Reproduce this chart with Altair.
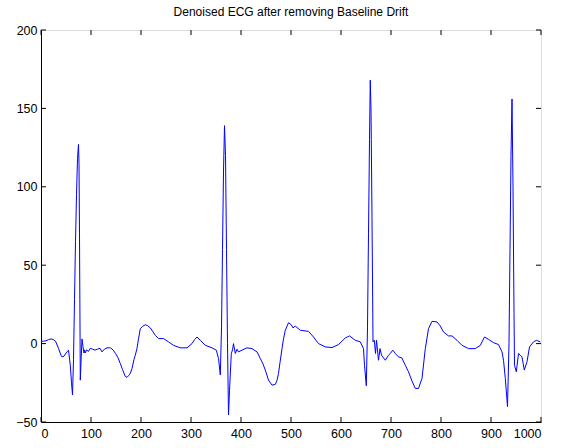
import altair as alt
import pandas as pd

sample_x = [0,5,10,15,20,25,29,35,40,42,46,50,52,55,58.6,61,63,65,67,69,71,73,75,76,77,78.6,80,82,84,86,87,88.6,91,95,98.6,103,108,113,118,122,127,132,139,144,149,154,158.6,163,168.6,172,175,178.6,182,186,188.6,192,195,198.6,203,208.6,213,218.6,223,228.6,235,245,255,265,278.6,292,302,307,312,318.6,328.6,342,350.6,355,358.6,361,363,365,367,369,371,373,375,377,380.6,383,385,388.6,392,395,402,412,422,432,438.6,444,448.6,455,462,468.6,472,475,478,482,485,488.6,495,500.6,504,508.6,518.6,535,545,555,568.6,582,595,608.6,617,628.6,638.6,645,647,650.6,653,655,657,658.5,660,662,664,666.6,669,671,675,678,681,688.6,695,698.6,703.6,708.6,715,721.6,728.6,735,742,748.6,755,762,768.6,775,782,792,798.6,805,815,822,832,842,855,868.6,878.6,887,895,905,915,922,925,928.6,933,936,938,940,942,944,946,947,950.6,955,958.6,962,966.6,972,977,985,990.6,998.6]

ecg_y = [1.5,1.5,1.8,2.5,3,2.5,1.5,-3,-7.5,-8.5,-8,-6,-5.3,-4.2,-13.8,-25,-32.8,-10,28,65,95,118,127,115,70,-23.3,-12,3,-2,-6,-4,-6,-4,-5,-3,-3.5,-4.2,-3.5,-3,-5.3,-3.5,-2.7,-2.7,-4,-6.3,-9,-12.7,-16.5,-21,-21.5,-20.5,-19,-15.9,-10,-7.4,-3,3,9.5,11,12,11.5,10,8,5.3,3.2,3.2,1.1,-1.1,-2.7,-2.7,0,2.5,4.2,2.1,-1.1,-2.7,-4.2,-9.5,-20,10,60,110,139,120,60,0,-45.5,-30,-6.3,-4,0,-6.3,-3.6,-5.3,-4.2,-2.7,-3.2,-5.3,-9.5,-13,-16.9,-23.3,-26.5,-26,-23.5,-19,-12,-3.2,3,8.5,13.3,12,10,11.2,8.5,7.8,4.2,0,-2.1,-2.5,-0.6,3.6,4.9,2.1,1.1,-3.2,-13.8,-26.9,10,70,130,168,150,80,1.1,2.1,-6.3,2.1,-10.6,-3.2,-7.4,-10.6,-7.4,-6.3,-4.2,-6.3,-8.5,-9.1,-13.8,-18,-23.9,-28.6,-28.6,-22.2,-3.2,9.5,14.2,13.8,11.2,7.4,4.9,4.9,2.1,-1.1,-3.2,-3.2,-1.1,4.2,2.7,0.6,-0.6,-5.3,-10.6,-22.2,-40.2,0,60,120,156,100,20,-13.8,-18,-6.3,-7.4,-8.5,-16.9,-11.6,-2.1,1.1,2.1,1.1]

x_ticks = [0,100,200,300,400,500,600,700,800,900,1000]
y_ticks = [-50,0,50,100,150,200]

W, H = 500, 392
FONT = "Liberation Sans"

df = pd.DataFrame({"x": sample_x, "y": ecg_y})
xt = pd.DataFrame({"x": x_ticks})
yt = pd.DataFrame({"y": y_ticks})

xscale = alt.Scale(domain=[0, 1000], nice=False, zero=False)
yscale = alt.Scale(domain=[-50, 200], nice=False, zero=False)

x_axis = alt.Axis(values=x_ticks, tickSize=0, labelPadding=5, grid=False,
                  domainColor="black", labelColor="black",
                  labelFont=FONT, labelFontSize=12.5, format="d")
y_axis = alt.Axis(values=y_ticks, tickSize=0, labelPadding=4, grid=False,
                  domainColor="black", labelColor="black",
                  labelFont=FONT, labelFontSize=12.5, format="d")

line = alt.Chart(df).mark_line(color="#0000FF", strokeWidth=1, clip=True).encode(
    x=alt.X("x:Q", scale=xscale, title=None, axis=x_axis),
    y=alt.Y("y:Q", scale=yscale, title=None, axis=y_axis),
)

tk = dict(color="black", strokeWidth=1)
xb = alt.Chart(xt).mark_rule(**tk).encode(
    x=alt.X("x:Q", scale=xscale, title=None, axis=x_axis), y=alt.value(H), y2=alt.value(H - 5))
xtop = alt.Chart(xt).mark_rule(**tk).encode(
    x=alt.X("x:Q", scale=xscale, title=None, axis=x_axis), y=alt.value(0), y2=alt.value(5))
yl = alt.Chart(yt).mark_rule(**tk).encode(
    y=alt.Y("y:Q", scale=yscale, title=None, axis=y_axis), x=alt.value(0), x2=alt.value(5))
yr = alt.Chart(yt).mark_rule(**tk).encode(
    y=alt.Y("y:Q", scale=yscale, title=None, axis=y_axis), x=alt.value(W), x2=alt.value(W - 5))

chart = alt.layer(line, xb, xtop, yl, yr).properties(
    width=W, height=H,
    title=alt.TitleParams("Denoised ECG after removing Baseline Drift", font=FONT,
                          fontSize=12, fontWeight="normal", color="black", offset=5),
    autosize=alt.AutoSizeParams(type="none"),
    padding={"left": 41, "top": 30, "right": 25, "bottom": 26},
).configure_view(stroke="black", strokeWidth=1).configure(background="white")

chart.save("out.html", embed_options={"renderer": "svg", "actions": False})
